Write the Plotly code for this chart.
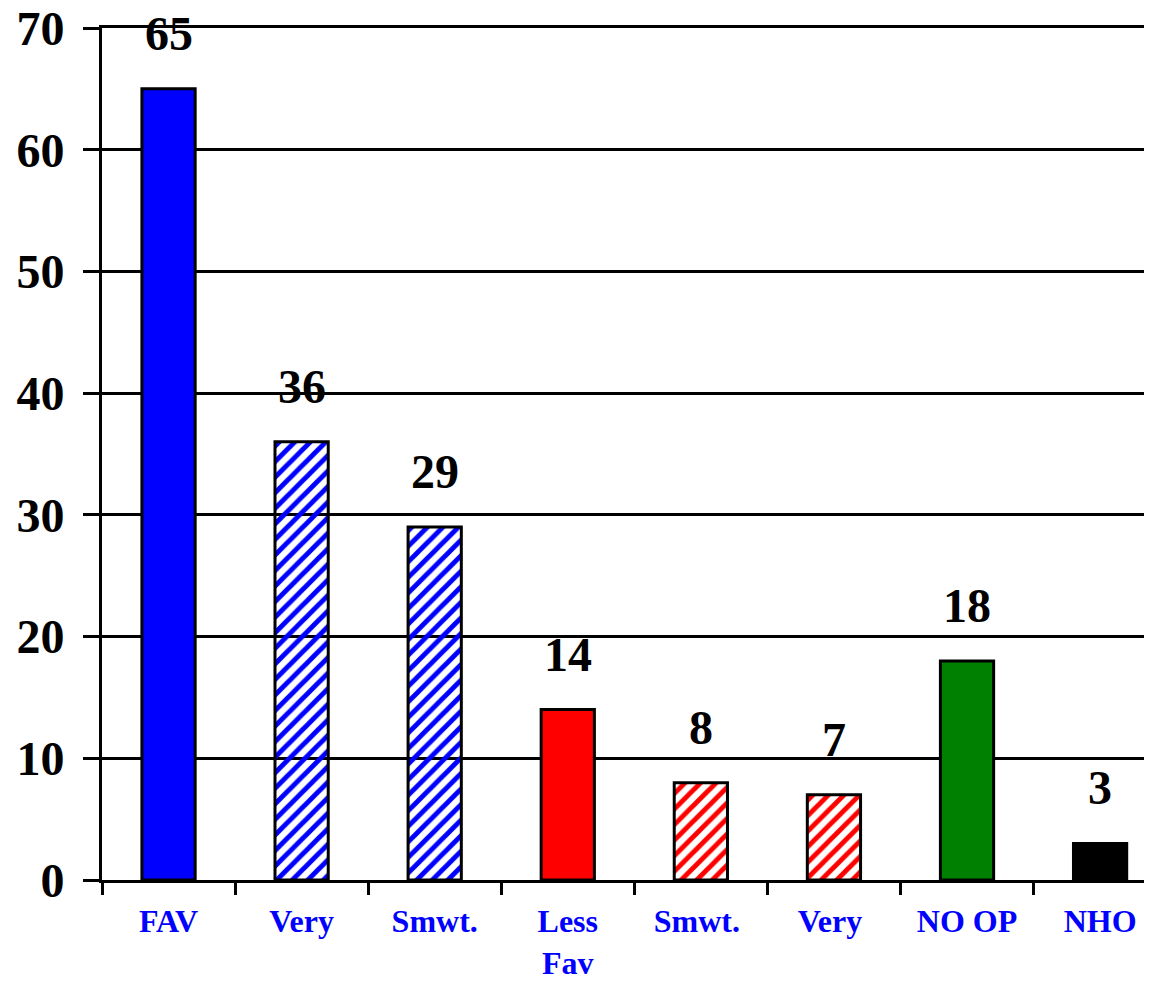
import plotly.graph_objects as go

categories = ["FAV", "Very", "Smwt.", "Less<br>Fav", "Smwt. ", "Very ", "NO OP", "NHO"]
values = [65, 36, 29, 14, 8, 7, 18, 3]
bar_colors = ["#0000FF", "#0000FF", "#0000FF", "#FF0000", "#FF0000", "#FF0000", "#008000", "#000000"]
patterns = ["", "/", "/", "", "/", "/", "", ""]
y_ticks = [0, 10, 20, 30, 40, 50, 60, 70]

serif = "Liberation Serif, Times New Roman, serif"

fig = go.Figure()
fig.add_trace(go.Bar(
    x=categories, y=values,
    marker=dict(
        color=bar_colors,
        line=dict(color="black", width=3),
        pattern=dict(shape=patterns, fgcolor=bar_colors, bgcolor="white",
                     size=11, solidity=0.45, fillmode="replace"),
    ),
    hoverinfo="skip",
))

for c, v in zip(categories, values):
    fig.add_annotation(x=c, y=v, text=str(v), showarrow=False,
                       yanchor="bottom", yshift=27,
                       font=dict(family=serif, size=48, color="black", weight="bold"))

fig.update_layout(
    width=1152, height=982,
    margin=dict(l=94, r=8, t=20, b=110),
    paper_bgcolor="white", plot_bgcolor="white",
    bargap=0.6, showlegend=False,
)
fig.update_xaxes(
    type="category", range=[-0.5, 7.39], tickson="boundaries",
    ticks="outside", ticklen=12, tickwidth=3, tickcolor="black",
    showline=True, mirror=True, linecolor="black", linewidth=3,
    showgrid=False, zeroline=False, automargin=False,
    tickfont=dict(family=serif, size=32, color="#0000FF", weight="bold"),
    ticklabelstandoff=11,
)
fig.update_yaxes(
    range=[0, 70], tickvals=y_ticks,
    ticks="outside", ticklen=16, tickwidth=3, tickcolor="black",
    showline=True, linecolor="black", linewidth=3,
    showgrid=True, gridcolor="black", gridwidth=3,
    zeroline=False, automargin=False, ticklabeloverflow="allow",
    tickfont=dict(family=serif, size=48, color="black", weight="bold"),
    ticklabelstandoff=9,
)

fig.write_html("out.html")
